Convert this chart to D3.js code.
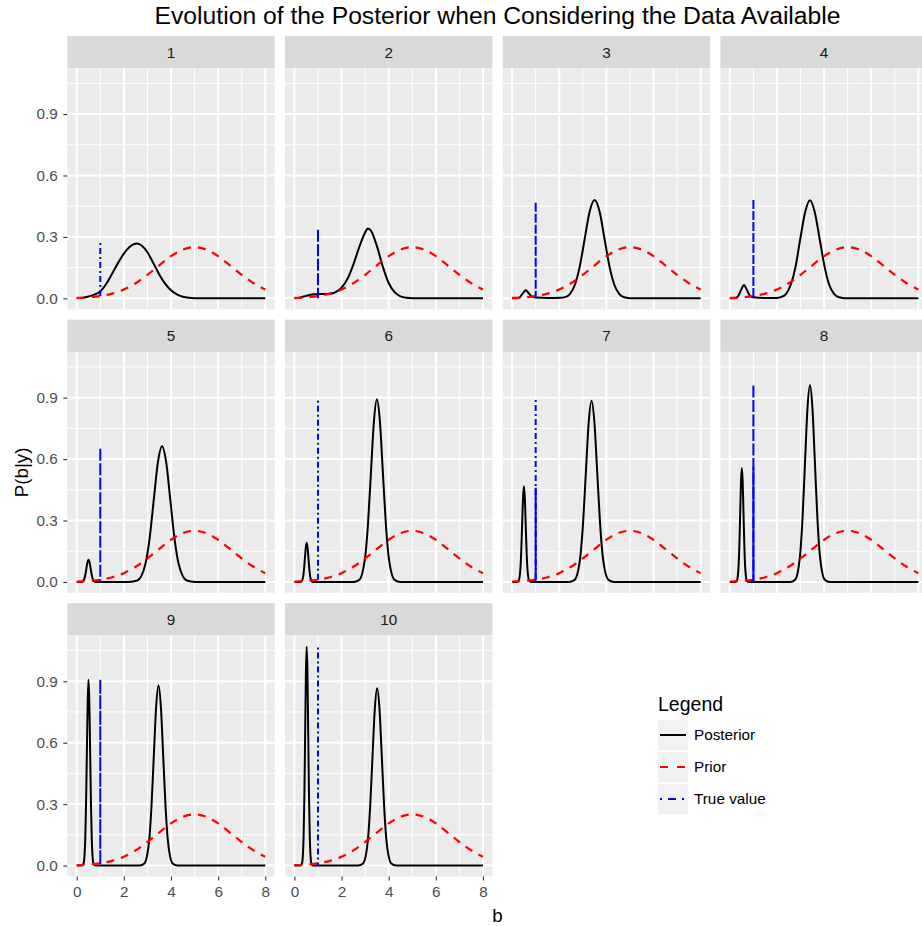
<!DOCTYPE html>
<html>
<head>
<meta charset="utf-8">
<script src="https://cdn.jsdelivr.net/npm/d3@7"></script>
<style>
  body { margin: 0; background: #fff; }
  text { font-family: "Liberation Sans", Arial, Helvetica, sans-serif; }
</style>
</head>
<body>
<svg id="chart" width="922" height="926"></svg>
<script>
// ---- data ----
const panels = ['1', '2', '3', '4', '5', '6', '7', '8', '9', '10'];
const xTicks = [0, 2, 4, 6, 8];
const yTicks = [0, 0.3, 0.6, 0.9];
const legendLabels = ['Posterior', 'Prior', 'True value'];

// prior density (same in every panel)
const priorX = [0, 0.5, 1, 1.5, 2, 2.5, 3, 3.5, 4, 4.5, 5, 5.5, 6, 6.5, 7, 7.5, 8];
const priorY = [0.002, 0.005, 0.011, 0.023, 0.043, 0.074, 0.115, 0.161, 0.206, 0.238, 0.25,
  0.238, 0.206, 0.161, 0.115, 0.074, 0.043];

// posterior density per panel, [b, P(b|y)]
const posterior1 = [[0,0],[0.25,0.003],[0.5,0.009],[0.75,0.018],[1,0.034],[1.25,0.07],[1.5,0.12],[1.75,0.172],[2,0.218],[2.25,0.252],[2.55,0.268],[2.75,0.258],[3,0.225],[3.25,0.172],[3.5,0.117],[3.75,0.072],[4,0.039],[4.25,0.019],[4.5,0.008],[4.75,0.003],[5,0.001],[5.5,0],[8,0]];
const posterior2 = [[0,0],[0.25,0.004],[0.5,0.012],[0.75,0.019],[1,0.021],[1.25,0.021],[1.5,0.022],[1.75,0.03],[2,0.052],[2.25,0.095],[2.5,0.165],[2.75,0.25],[3,0.322],[3.12,0.341],[3.25,0.33],[3.5,0.255],[3.75,0.155],[4,0.075],[4.25,0.03],[4.5,0.01],[4.75,0.003],[5,0.001],[5.5,0],[8,0]];
const posterior3 = [[0,0],[0.2,0.001],[0.32,0.005],[0.45,0.024],[0.58,0.04],[0.71,0.024],[0.84,0.008],[1,0.004],[1.5,0.002],[2.03,0.003],[2.24,0.006],[2.45,0.021],[2.66,0.065],[2.87,0.156],[3.08,0.291],[3.29,0.424],[3.5,0.48],[3.71,0.424],[3.92,0.291],[4.13,0.156],[4.34,0.065],[4.55,0.021],[4.76,0.005],[4.97,0.001],[5.5,0],[8,0]];
const posterior4 = [[0,0],[0.21,0.001],[0.34,0.009],[0.47,0.039],[0.6,0.065],[0.73,0.039],[0.86,0.012],[1,0.005],[1.5,0.002],[1.96,0.002],[2.17,0.006],[2.38,0.021],[2.58,0.065],[2.79,0.155],[2.99,0.291],[3.2,0.423],[3.4,0.479],[3.6,0.423],[3.81,0.291],[4.02,0.155],[4.22,0.065],[4.43,0.021],[4.63,0.005],[4.84,0.001],[5.3,0],[8,0]];
const posterior5 = [[0,0],[0.14,0],[0.23,0.001],[0.32,0.015],[0.365,0.035],[0.41,0.066],[0.455,0.096],[0.5,0.109],[0.545,0.096],[0.59,0.066],[0.635,0.035],[0.68,0.015],[0.77,0.001],[0.86,0],[2.22,0],[2.57,0.007],[2.92,0.09],[3.095,0.215],[3.27,0.402],[3.445,0.585],[3.62,0.663],[3.795,0.585],[3.97,0.402],[4.145,0.215],[4.32,0.09],[4.67,0.007],[5.02,0],[8,0]];
const posterior6 = [[0,0],[0.22,0],[0.295,0.002],[0.37,0.026],[0.408,0.062],[0.445,0.116],[0.483,0.169],[0.52,0.191],[0.558,0.169],[0.595,0.116],[0.633,0.062],[0.67,0.026],[0.745,0.002],[0.82,0],[2.5,0],[2.75,0.01],[3,0.121],[3.125,0.29],[3.25,0.541],[3.375,0.787],[3.5,0.892],[3.625,0.787],[3.75,0.541],[3.875,0.29],[4,0.121],[4.25,0.01],[4.5,0],[8,0]];
const posterior7 = [[0,0],[0.2,0],[0.275,0.005],[0.35,0.063],[0.388,0.152],[0.425,0.283],[0.463,0.412],[0.5,0.467],[0.538,0.412],[0.575,0.283],[0.613,0.152],[0.65,0.063],[0.725,0.005],[0.8,0],[2.41,0],[2.65,0.01],[2.89,0.12],[3.01,0.287],[3.13,0.537],[3.25,0.781],[3.37,0.885],[3.49,0.781],[3.61,0.537],[3.73,0.287],[3.85,0.12],[4.09,0.01],[4.33,0],[8,0]];
const posterior8 = [[0,0],[0.23,0],[0.3,0.006],[0.37,0.075],[0.405,0.181],[0.44,0.338],[0.475,0.492],[0.51,0.557],[0.545,0.492],[0.58,0.338],[0.615,0.181],[0.65,0.075],[0.72,0.006],[0.79,0],[2.56,0],[2.77,0.011],[2.98,0.13],[3.085,0.312],[3.19,0.583],[3.295,0.849],[3.4,0.962],[3.505,0.849],[3.61,0.583],[3.715,0.312],[3.82,0.13],[4.03,0.011],[4.24,0],[8,0]];
const posterior9 = [[0,0],[0.22,0],[0.29,0.01],[0.36,0.123],[0.395,0.295],[0.43,0.551],[0.465,0.801],[0.5,0.908],[0.535,0.801],[0.57,0.551],[0.605,0.295],[0.64,0.123],[0.71,0.01],[0.78,0],[2.67,0],[2.87,0.01],[3.07,0.119],[3.17,0.285],[3.27,0.533],[3.37,0.776],[3.47,0.879],[3.57,0.776],[3.67,0.533],[3.77,0.285],[3.87,0.119],[4.07,0.01],[4.27,0],[8,0]];
const posterior10 = [[0,0],[0.26,0],[0.325,0.012],[0.39,0.145],[0.423,0.347],[0.455,0.648],[0.488,0.943],[0.52,1.069],[0.553,0.943],[0.585,0.648],[0.618,0.347],[0.65,0.145],[0.715,0.012],[0.78,0],[2.71,0],[2.91,0.01],[3.11,0.117],[3.21,0.281],[3.31,0.525],[3.41,0.764],[3.51,0.866],[3.61,0.764],[3.71,0.525],[3.81,0.281],[3.91,0.117],[4.11,0.01],[4.31,0],[8,0]];
const posteriors = [posterior1, posterior2, posterior3, posterior4, posterior5,
  posterior6, posterior7, posterior8, posterior9, posterior10];

// true value line: position, height per panel, and the part where the strokes overlap
const trueValue = 1;
const trueTop = [0.27, 0.335, 0.467, 0.48, 0.65, 0.885, 0.889, 0.96, 0.908, 1.065];
const trueOverlap = [0, 0, 0, 0, 0, 0, 0.46, 0.56, 0, 0];

// ---- layout ----
const svg = d3.select('#chart');
const panelLeft = 67.3;
const panelTop = 36;
const panelW = 207.4;
const stripH = 32.3;
const plotH = 241;
const gap = 10.3;
const nCol = 4;
const tickFont = '15.3px';

const colors = { posterior: '#000000', prior: '#ff0000', truth: '#0000ff' };
const trueDash = ['2,3,6,3', '12,2.5', '9,2', '9,2', '12,2.5', '2,3,6,3', '2,3,6,3', '12,2.5', '14,1.5', '2,3,6,3'];

const x = d3.scaleLinear().domain([-0.4, 8.4]).range([0, panelW]);
const y = d3.scaleLinear().domain([-0.0535, 1.1235]).range([plotH, 0]);

const line = d3.line()
  .x((d) => x(d[0]))
  .y((d) => y(d[1]))
  .curve(d3.curveMonotoneX);

const priorPoints = priorX.map((v, i) => [v, priorY[i]]);

// Title
const title = svg.append('text')
  .attr('x', panelLeft + (nCol * panelW + (nCol - 1) * gap) / 2)
  .attr('y', 23.5)
  .attr('text-anchor', 'middle')
  .style('font-size', '23px')
  .style('fill', '#000')
  .text('Evolution of the Posterior when Considering the Data Available');
title.attr('textLength', 686).attr('lengthAdjust', 'spacingAndGlyphs');

panels.forEach((label, i) => {
  const col = i % nCol;
  const row = Math.floor(i / nCol);
  const px = panelLeft + col * (panelW + gap);
  const py = panelTop + row * (stripH + plotH + gap);
  const g = svg.append('g').attr('transform', `translate(${px},${py})`);

  // strip
  g.append('rect')
    .attr('width', panelW)
    .attr('height', stripH)
    .attr('fill', '#d9d9d9');
  g.append('text')
    .attr('x', panelW / 2)
    .attr('y', stripH / 2 + 5.4)
    .attr('text-anchor', 'middle')
    .style('font-size', tickFont)
    .style('fill', '#1a1a1a')
    .text(label);

  const p = g.append('g').attr('transform', `translate(0,${stripH})`);
  p.append('rect')
    .attr('width', panelW)
    .attr('height', plotH)
    .attr('fill', '#ebebeb');

  // minor grid
  p.selectAll('.vminor').data([1, 3, 5, 7]).enter().append('line')
    .attr('x1', (d) => x(d)).attr('x2', (d) => x(d))
    .attr('y1', 0).attr('y2', plotH)
    .attr('stroke', '#fff').attr('stroke-width', 1);
  p.selectAll('.hminor').data([0.15, 0.45, 0.75, 1.05]).enter().append('line')
    .attr('x1', 0).attr('x2', panelW)
    .attr('y1', (d) => y(d)).attr('y2', (d) => y(d))
    .attr('stroke', '#fff').attr('stroke-width', 1);
  // major grid
  p.selectAll('.vmajor').data(xTicks).enter().append('line')
    .attr('x1', (d) => x(d)).attr('x2', (d) => x(d))
    .attr('y1', 0).attr('y2', plotH)
    .attr('stroke', '#fff').attr('stroke-width', 2);
  p.selectAll('.hmajor').data(yTicks).enter().append('line')
    .attr('x1', 0).attr('x2', panelW)
    .attr('y1', (d) => y(d)).attr('y2', (d) => y(d))
    .attr('stroke', '#fff').attr('stroke-width', 2);

  // posterior
  p.append('path')
    .attr('d', line(posteriors[i]))
    .attr('fill', 'none')
    .attr('stroke', colors.posterior)
    .attr('stroke-width', 2);

  // prior
  p.append('path')
    .attr('d', line(priorPoints))
    .attr('fill', 'none')
    .attr('stroke', colors.prior)
    .attr('stroke-width', 2.2)
    .attr('stroke-dasharray', '8,7');

  // true value, drawn from the top down
  p.append('line')
    .attr('x1', x(trueValue)).attr('x2', x(trueValue))
    .attr('y1', y(trueTop[i])).attr('y2', y(0))
    .attr('stroke', colors.truth)
    .attr('stroke-width', 2)
    .attr('stroke-dasharray', trueDash[i]);
  if (trueOverlap[i] > 0) {
    p.append('line')
      .attr('x1', x(trueValue)).attr('x2', x(trueValue))
      .attr('y1', y(trueOverlap[i])).attr('y2', y(0))
      .attr('stroke', colors.truth)
      .attr('stroke-width', 2);
  }

  // y axis on the first column
  if (col === 0) {
    const ay = p.append('g')
      .call(d3.axisLeft(y).tickValues(yTicks).tickFormat(d3.format('.1f')).tickSize(4).tickPadding(5.5));
    ay.select('.domain').remove();
    ay.selectAll('line').attr('stroke', '#333333').attr('stroke-width', 1.1);
    ay.selectAll('text').style('font-size', tickFont).style('fill', '#4d4d4d')
      .style('font-family', '"Liberation Sans", Arial, sans-serif');
  }

  // x axis on the bottom row
  if (i >= 8) {
    const ax = p.append('g')
      .attr('transform', `translate(0,${plotH})`)
      .call(d3.axisBottom(x).tickValues(xTicks).tickSize(4).tickPadding(5.3));
    ax.select('.domain').remove();
    ax.selectAll('line').attr('stroke', '#333333').attr('stroke-width', 1.1);
    ax.selectAll('text').style('font-size', tickFont).style('fill', '#4d4d4d')
      .style('font-family', '"Liberation Sans", Arial, sans-serif');
  }
});

// axis titles
svg.append('text')
  .attr('x', panelLeft + (nCol * panelW + (nCol - 1) * gap) / 2)
  .attr('y', 921.5)
  .attr('text-anchor', 'middle')
  .style('font-size', '18.7px')
  .text('b');

const yMid = panelTop + stripH + (3 * (stripH + plotH) + 2 * gap - stripH) / 2;
svg.append('text')
  .attr('transform', `translate(28,${yMid}) rotate(-90)`)
  .attr('text-anchor', 'middle')
  .style('font-size', '18.7px')
  .text('P(b|y)');

// legend
const legend = svg.append('g').attr('transform', 'translate(658,704)');
legend.append('text')
  .attr('x', 0)
  .attr('y', 6.5)
  .style('font-size', '19.5px')
  .text('Legend');

const keyStyles = [
  { color: colors.posterior, dash: null, width: 2 },
  { color: colors.prior, dash: '8,9', width: 2.2 },
  { color: colors.truth, dash: '2,6,8,6', width: 2 },
];

legendLabels.forEach((lab, k) => {
  const ky = 16 + k * 32;
  legend.append('rect')
    .attr('x', 0).attr('y', ky)
    .attr('width', 30).attr('height', 30)
    .attr('fill', '#f2f2f2');
  const kl = legend.append('line')
    .attr('x1', 2).attr('x2', 28)
    .attr('y1', ky + 15).attr('y2', ky + 15)
    .attr('stroke', keyStyles[k].color)
    .attr('stroke-width', keyStyles[k].width);
  if (keyStyles[k].dash) kl.attr('stroke-dasharray', keyStyles[k].dash);
  legend.append('text')
    .attr('x', 36)
    .attr('y', ky + 15 + 5.4)
    .style('font-size', tickFont)
    .text(lab);
});
</script>
</body>
</html>
